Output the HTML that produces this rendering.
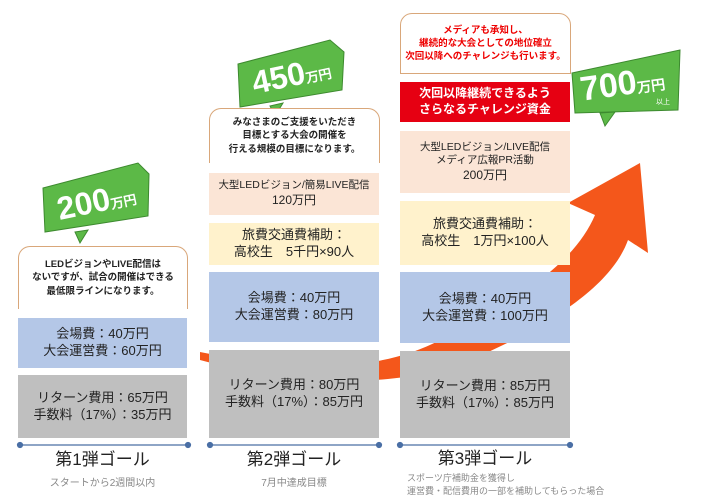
<!DOCTYPE html>
<html><head><meta charset="utf-8"><style>
body{margin:0;width:720px;height:498px;background:#fff;position:relative;overflow:hidden;font-family:"Liberation Sans","Noto Sans CJK JP",sans-serif;color:#222}
.b{position:absolute;display:flex;align-items:center;justify-content:center;text-align:center;line-height:1.3}
.bub{position:absolute;border:1px solid #d9a77a;border-bottom:none;border-radius:12px 12px 0 0;background:#fff;display:flex;align-items:center;justify-content:center;text-align:center;font-size:9.5px;font-weight:bold;line-height:1.4}
.blue{background:#b4c7e7;font-size:13px}.gray{background:#bfbfbf;font-size:13px}
.peach{background:#fbe5d6;font-size:10.5px}.yel{background:#fff2cc;font-size:13px}
.tl{position:absolute;font-size:17px;text-align:center;line-height:20px}
.sub{position:absolute;font-size:10px;color:#888;text-align:center}
</style></head><body>
<svg width="720" height="498" style="position:absolute;left:0;top:0">
<path d="M200,352 C300,372 380,372 440,340 C520,300 575,262 595,215 L568,203 L640,163 L648,253 L628,240 C610,290 540,330 470,360 C420,380 330,395 200,360 Z" fill="#f4571b"/>
<g fill="#5cb947" stroke="#3d8a2f" stroke-width="1">
<polygon points="43,188 138,163 149,174 148,216 45,232"/>
<polygon points="75,232 88,230 80,243"/>
<polygon points="238,64 330,40 344,52 342,90 240,107"/>
<polygon points="270,106 283,103 275,116"/>
<polygon points="572,73 680,50 678,110 575,113"/>
<polygon points="600,113 615,112 605,126"/>
</g>
<g font-family="Liberation Sans" font-weight="bold" fill="#fff" text-anchor="middle">
<text x="96" y="212" font-size="32" transform="rotate(-12 96 200)">200<tspan font-size="13">万円</tspan></text>
<text x="291" y="86" font-size="32" transform="rotate(-12 291 74)">450<tspan font-size="13">万円</tspan></text>
<text x="622" y="95" font-size="34" transform="rotate(-8 622 82)">700<tspan font-size="14">万円</tspan></text>
</g>
<text x="656" y="104" fill="#fff" font-size="7" font-family="Liberation Sans,Noto Sans CJK JP">以上</text>
<g stroke="#4a6fa5" stroke-width="1.2" fill="#4a6fa5">
<line x1="20" y1="445" x2="188" y2="445"/><circle cx="20" cy="445" r="2.5"/><circle cx="188" cy="445" r="2.5"/>
<line x1="210" y1="445" x2="379" y2="445"/><circle cx="210" cy="445" r="2.5"/><circle cx="379" cy="445" r="2.5"/>
<line x1="400" y1="445" x2="570" y2="445"/><circle cx="400" cy="445" r="2.5"/><circle cx="570" cy="445" r="2.5"/>
</g>
</svg>
<div class="bub" style="left:18px;top:246px;width:168px;height:62px"><div>LEDビジョンやLIVE配信は<br>ないですが、試合の開催はできる<br>最低限ラインになります。</div></div>
<div class="b blue" style="left:18px;top:318px;width:169px;height:50px"><div>会場費：40万円<br>大会運営費：60万円</div></div>
<div class="b gray" style="left:18px;top:375px;width:169px;height:63px"><div>リターン費用：65万円<br>手数料（17%）：35万円</div></div>
<div class="tl" style="left:18px;top:450px;width:169px">第1弾ゴール</div>
<div class="sub" style="left:18px;top:474px;width:169px">スタートから2週間以内</div>

<div class="bub" style="left:209px;top:108px;width:169px;height:54px"><div>みなさまのご支援をいただき<br>目標とする大会の開催を<br>行える規模の目標になります。</div></div>
<div class="b peach" style="left:209px;top:173px;width:170px;height:42px"><div>大型LEDビジョン/簡易LIVE配信<br><span style="font-size:12px">120万円</span></div></div>
<div class="b yel" style="left:209px;top:223px;width:170px;height:42px"><div>旅費交通費補助：<br>高校生　5千円×90人</div></div>
<div class="b blue" style="left:209px;top:272px;width:170px;height:70px"><div>会場費：40万円<br>大会運営費：80万円</div></div>
<div class="b gray" style="left:209px;top:350px;width:170px;height:88px"><div>リターン費用：80万円<br>手数料（17%）：85万円</div></div>
<div class="tl" style="left:209px;top:450px;width:170px">第2弾ゴール</div>
<div class="sub" style="left:209px;top:474px;width:170px">7月中達成目標</div>

<div class="bub" style="left:400px;top:13px;width:169px;height:59px;color:#e00;border-bottom:1px solid #d9a77a"><div>メディアも承知し、<br>継続的な大会としての地位確立<br>次回以降へのチャレンジも行います。</div></div>
<div class="b" style="left:400px;top:82px;width:170px;height:40px;background:#e60012;color:#fff;font-weight:bold;font-size:12px"><div>次回以降継続できるよう<br>さらなるチャレンジ資金</div></div>
<div class="b peach" style="left:400px;top:131px;width:170px;height:62px"><div>大型LEDビジョン/LIVE配信<br>メディア広報PR活動<br><span style="font-size:12px">200万円</span></div></div>
<div class="b yel" style="left:400px;top:201px;width:170px;height:64px"><div>旅費交通費補助：<br>高校生　1万円×100人</div></div>
<div class="b blue" style="left:400px;top:272px;width:170px;height:71px"><div>会場費：40万円<br>大会運営費：100万円</div></div>
<div class="b gray" style="left:400px;top:351px;width:170px;height:87px"><div>リターン費用：85万円<br>手数料（17%）：85万円</div></div>
<div class="tl" style="left:400px;top:449px;width:170px">第3弾ゴール</div>
<div class="sub" style="left:407px;top:472px;width:220px;text-align:left;font-size:9px;line-height:1.4">スポーツ庁補助金を獲得し<br>運営費・配信費用の一部を補助してもらった場合</div>
</body></html>
